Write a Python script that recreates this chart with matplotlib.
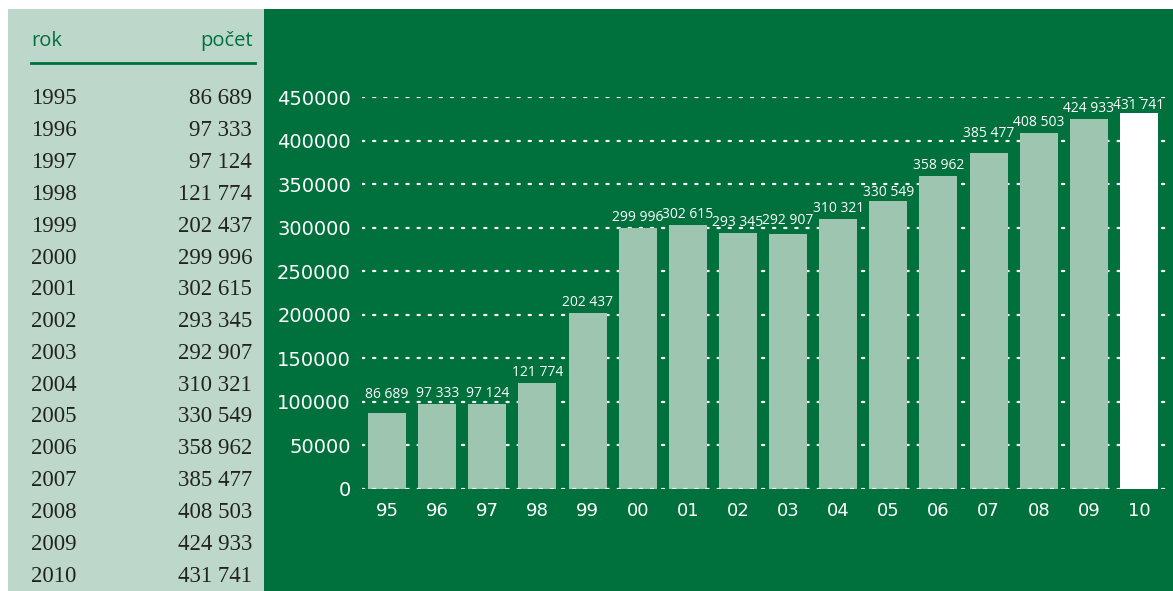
import numpy as np
from matplotlib import pyplot as plt
from matplotlib.patches import Rectangle

# data
roky = [1995, 1996, 1997, 1998, 1999, 2000, 2001, 2002, 2003, 2004,
        2005, 2006, 2007, 2008, 2009, 2010]
pocet = [86689, 97333, 97124, 121774, 202437, 299996, 302615, 293345,
         292907, 310321, 330549, 358962, 385477, 408503, 424933, 431741]
x_labels = ['95', '96', '97', '98', '99', '00', '01', '02', '03', '04',
            '05', '06', '07', '08', '09', '10']
y_ticks = [0, 50000, 100000, 150000, 200000, 250000, 300000, 350000,
           400000, 450000]

DARK = '#00703c'
PANEL = '#bdd8cb'
BAR = '#9dc5b0'
W, H = 1173, 591


def fmt(v):
    # tisíce oddělené mezerou
    return '{:,}'.format(v).replace(',', ' ')


def fx(px):
    return px / W


def fy(py):
    return 1 - py / H


fig = plt.figure(figsize=(W / 100, H / 100), dpi=100)
fig.patch.set_facecolor('white')

# pozadí panelů
fig.patches.append(Rectangle((fx(8), 0), fx(264) - fx(8), fy(9), transform=fig.transFigure,
                             facecolor=PANEL, edgecolor='none', zorder=-10))
fig.patches.append(Rectangle((fx(264), 0), 1 - fx(264), fy(9), transform=fig.transFigure,
                             facecolor=DARK, edgecolor='none', zorder=-10))

# tabulka vlevo
fig.text(fx(31), fy(41), 'rok', color=DARK, fontsize=14.5, family='Open Sans',
         ha='left', va='center')
fig.text(fx(253), fy(41), 'počet', color=DARK, fontsize=14.5, family='Open Sans',
         ha='right', va='center')
fig.add_artist(plt.Line2D([fx(31), fx(255)], [fy(63), fy(63)], color=DARK, lw=2,
                          transform=fig.transFigure))
for i, (r, p) in enumerate(zip(roky, pocet)):
    yy = fy(99 + i * 31.8)
    fig.text(fx(31), yy, str(r), color='#222222', fontsize=16.5,
             family='Liberation Serif', ha='left', va='center')
    fig.text(fx(252), yy, fmt(p), color='#222222', fontsize=16.5,
             family='Liberation Serif', ha='right', va='center')

# graf
ax = fig.add_axes([fx(362), fy(489), 1 - fx(362), fy(97) - fy(489)])
ax.set_facecolor('none')
ax.set_zorder(5)
x = np.arange(len(pocet))
colors = [BAR] * (len(pocet) - 1) + ['white']
ax.bar(x, pocet, width=0.76, color=colors, zorder=2)
for yt in y_ticks:
    ax.axhline(yt, color='white', lw=1.6, ls=(0, (1, 4)),
               zorder=3 if yt == 0 else 1, dash_capstyle='round')

# popisky nad sloupci; když by překryly mřížku, posunou se nad ni nebo pod ni
gap = 8000     # ~7 px
txt_h = 11500  # výška číslic ~10 px
for xi, v in zip(x, pocet):
    y_lab = v + gap
    for g in y_ticks:
        if y_lab - 1000 < g < y_lab + txt_h + 1500:
            if g > y_lab + 0.6 * txt_h:
                y_lab = g - txt_h - 2500
            else:
                y_lab = g + 4600
    ax.text(xi, y_lab, fmt(v), color='white', fontsize=10, family='Open Sans',
            ha='center', va='baseline')

ax.set_xlim(-0.5, (W - 387) / 50.13)
ax.set_ylim(0, 450000)
ax.set_yticks(y_ticks)
ax.set_yticklabels([str(t) for t in y_ticks])
ax.set_xticks(x)
ax.set_xticklabels(x_labels)
ax.tick_params(axis='both', length=0, colors='white')
ax.tick_params(axis='y', pad=8, labelsize=14)
ax.tick_params(axis='x', pad=9, labelsize=13)
for s in ax.spines.values():
    s.set_visible(False)

plt.savefig('out.png', dpi=100)
